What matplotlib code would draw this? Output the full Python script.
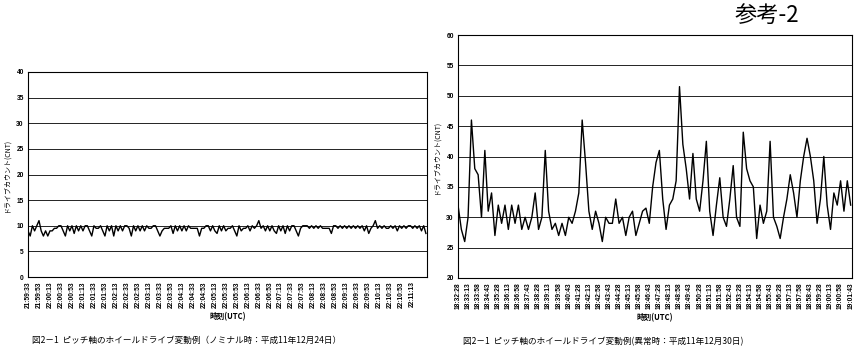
import matplotlib
matplotlib.use("Agg")
import matplotlib.pyplot as plt
import numpy as np

plt.rcParams['font.family'] = ['Noto Sans CJK JP', 'DejaVu Sans']

# ---- left chart: nominal (1999-12-24), sample every 4 s ----
nominal_step = 4
nominal_counts = [
    9, 8, 10, 9, 10,
    11, 9, 8, 9, 8,
    9, 9, 9.5, 9.5, 10,
    10, 9, 8, 10, 9,
    10, 8.5, 10, 9, 10,
    9, 10, 10, 9, 8,
    10, 9.5, 9.5, 10, 9,
    8, 10, 9, 10, 8,
    10, 9, 10, 9, 10,
    10, 9.5, 8, 10, 9,
    10, 9, 10, 9, 10,
    9.5, 9.5, 10, 10, 9,
    8, 9, 9.5, 9.5, 9.5,
    10, 8.5, 10, 9, 10,
    9, 10, 9, 10, 9.5,
    9.5, 9.5, 9.5, 8, 9.5,
    9.5, 10, 10, 9, 10,
    9, 8.5, 10, 9, 10,
    9, 9.5, 9.5, 10, 9,
    8, 10, 9, 9.5, 9.5,
    10, 9, 10, 9.5, 10,
    11, 9.5, 10, 9, 10,
    9, 10, 9, 8.5, 10,
    9, 10, 8.5, 10, 9,
    10, 10, 9, 8, 9.5,
    10, 10, 10, 9.5, 10,
    9.5, 10, 9.5, 10, 9.5,
    9.5, 9.5, 9.5, 8.5, 10,
    10, 9.5, 10, 9.5, 10,
    9.5, 10, 9.5, 10, 9.5,
    10, 9.5, 10, 9, 10,
    8.5, 9.5, 10, 11, 9.5,
    10, 9.5, 10, 9.5, 9.5,
    10, 9.5, 10, 9, 10,
    9.5, 10, 9.5, 10, 10,
    9.5, 10, 9.5, 10, 9,
    10, 8.5,
]
nominal_labels = [
    "21:59:33", "21:59:53", "22:00:13", "22:00:33", "22:00:53", "22:01:13",
    "22:01:33", "22:01:53", "22:02:13", "22:02:33", "22:02:53", "22:03:13",
    "22:03:33", "22:03:53", "22:04:13", "22:04:33", "22:04:53", "22:05:13",
    "22:05:33", "22:05:53", "22:06:13", "22:06:33", "22:06:53", "22:07:13",
    "22:07:33", "22:07:53", "22:08:13", "22:08:33", "22:08:53", "22:09:13",
    "22:09:33", "22:09:53", "22:10:13", "22:10:33", "22:10:53", "22:11:13",
]
nominal_label_step = 20

# ---- right chart: anomaly (1999-12-30), sample every 15 s ----
anomaly_step = 15
anomaly_counts = [
    32, 28, 26, 30, 46, 38, 37, 30, 41, 31,
    34, 27, 32, 29, 32, 28, 32, 29, 32, 28,
    30, 28, 30, 34, 28, 30, 41, 31, 28, 29,
    27, 29, 27, 30, 29, 31, 34, 46, 39, 31,
    28, 31, 29, 26, 30, 29, 29, 33, 29, 30,
    27, 30, 31, 27, 29, 31, 31.5, 29, 35, 39,
    41, 33, 28, 32, 33, 36, 51.5, 42, 38, 33,
    40.5, 33, 31, 36, 42.5, 31, 27, 32, 36.5, 30,
    28.5, 33, 38.5, 30, 28.5, 44, 38, 36, 35, 26.5,
    32, 29, 31, 42.5, 30, 28.5, 26.5, 30, 33, 37,
    34, 30, 36, 40, 43, 40, 36, 29, 33, 40,
    32, 28, 34, 32, 36, 31, 36, 32,
]
anomaly_labels = [
    "18:32:28", "18:33:13", "18:33:58", "18:34:43", "18:35:28", "18:36:13",
    "18:36:58", "18:37:43", "18:38:28", "18:39:13", "18:39:58", "18:40:43",
    "18:41:28", "18:42:13", "18:42:58", "18:43:43", "18:44:28", "18:45:13",
    "18:45:58", "18:46:43", "18:47:28", "18:48:13", "18:48:58", "18:49:43",
    "18:50:28", "18:51:13", "18:51:58", "18:52:43", "18:53:28", "18:54:13",
    "18:54:58", "18:55:43", "18:56:28", "18:57:13", "18:57:58", "18:58:43",
    "18:59:28", "19:00:13", "19:00:58", "19:01:43",
]
anomaly_label_step = 45

ylabel = "ドライブカウント(CNT)"
xlabel = "時刻(UTC)"
caption_left = "図2－1  ピッチ軸のホイールドライブ変動例（ノミナル時：平成11年12月24日）"
caption_right = "図2－1  ピッチ軸のホイールドライブ変動例(異常時：平成11年12月30日)"
page_tag = "参考-2"

tick_font = dict(family=['Liberation Sans', 'DejaVu Sans'], size=4.8, weight='bold')


def draw(ax, counts, step, labels, label_step, ylim, yticks, xmax):
    x = np.arange(len(counts)) * step
    for y in yticks[1:]:
        ax.axhline(y, color='black', lw=0.6, zorder=1)
    ax.plot(x, counts, color='black', lw=1.0, zorder=2)
    ax.set_xlim(0, xmax)
    ax.set_ylim(*ylim)
    ax.set_yticks(yticks)
    ax.set_yticklabels([str(v) for v in yticks], fontdict=tick_font)
    ax.set_xticks(np.arange(len(labels)) * label_step)
    ax.set_xticklabels(labels, rotation=90, fontdict=tick_font)
    ax.tick_params(length=0, pad=3)
    for s in ax.spines.values():
        s.set_linewidth(0.8)
        s.set_color('black')
    ax.set_ylabel(ylabel, fontsize=5, labelpad=4)
    ax.set_xlabel(xlabel, fontsize=5.5, fontweight='bold', labelpad=3)


fig = plt.figure(figsize=(8.57, 3.53), dpi=100)

ax1 = fig.add_axes([28 / 857, 76 / 353, 399 / 857, 205 / 353])
draw(ax1, nominal_counts, nominal_step, nominal_labels, nominal_label_step,
     (0, 40), list(range(0, 41, 5)), 726)

ax2 = fig.add_axes([458 / 857, 75 / 353, 394 / 857, 243 / 353])
draw(ax2, anomaly_counts, anomaly_step, anomaly_labels, anomaly_label_step,
     (20, 60), list(range(20, 61, 5)), 1761)

fig.text(32 / 857, 1 - 340 / 353, caption_left, fontsize=6.2, va='center', ha='left')
fig.text(463 / 857, 1 - 342 / 353, caption_right, fontsize=6.2, va='center', ha='left')
fig.text(735 / 857, 1 - 15 / 353, page_tag, fontsize=16, va='center', ha='left')

fig.savefig("out.png", dpi=100, facecolor='white')
